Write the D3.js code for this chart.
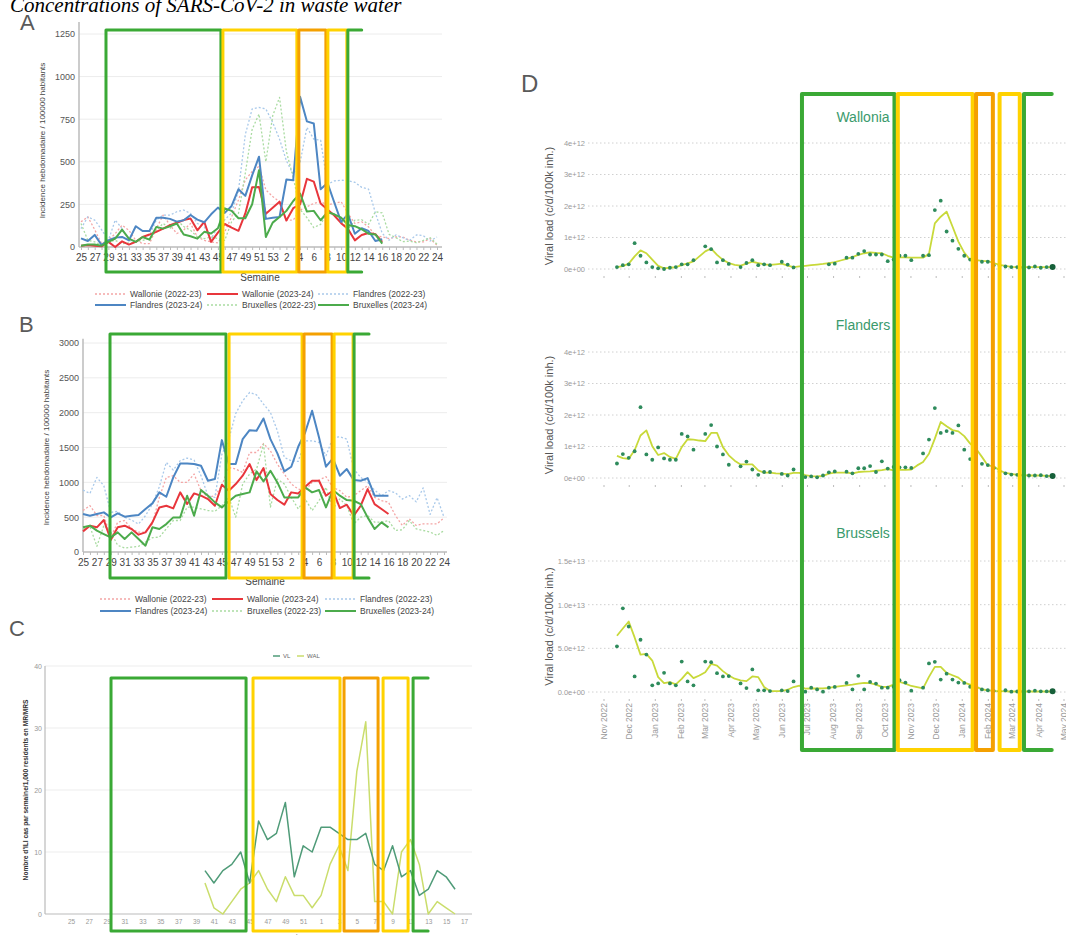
<!DOCTYPE html>
<html>
<head>
<meta charset="utf-8">
<script src="https://cdn.jsdelivr.net/npm/d3@7"></script>
<style>
    body { margin: 0; background: #fff; }
    svg { display: block; font-family: "Liberation Sans", Arial, sans-serif; }
</style>
</head>
<body>
<div id="chart"></div>
<script>
//Semanas (eje x de A y B, y de C)
const semanasAB = [25,26,27,28,29,30,31,32,33,34,35,36,37,38,39,40,41,42,43,44,45,46,47,48,49,50,51,52,53,1,2,3,4,5,6,7,8,9,10,11,12,13,14,15,16,17,18,19,20,21,22,23,24];
const semanasC = [25,26,27,28,29,30,31,32,33,34,35,36,37,38,39,40,41,42,43,44,45,46,47,48,49,50,51,52,1,2,3,4,5,6,7,8,9,10,11,12,13,14,15,16,17];

const nombresSeries = ['Wallonie (2022-23)', 'Wallonie (2023-24)', 'Flandres (2022-23)', 'Flandres (2023-24)', 'Bruxelles (2022-23)', 'Bruxelles (2023-24)'];

//Panel A - incidence hebdomadaire
const aWal22 = [148,177,102,20,39,79,128,98,39,20,20,108,187,128,79,100,138,59,39,30,24,89,177,276,394,443,473,335,296,266,158,158,217,236,256,266,246,256,266,197,138,148,118,69,59,49,59,59,39,30,30,49,10];
const aWal23 = [8,12,8,4,30,0,33,14,30,59,73,89,108,128,142,158,167,98,148,30,84,135,114,95,197,350,352,195,230,266,155,228,250,400,384,255,220,185,140,105,39,70,82,75,30];
const aFla22 = [108,177,158,102,39,158,108,39,30,59,69,158,187,187,207,217,197,138,118,49,118,160,200,330,660,810,819,810,731,633,506,427,496,702,633,627,368,388,392,388,380,350,340,200,80,40,71,55,39,71,67,35,59];
const aFla23 = [51,35,71,12,39,55,59,39,122,94,94,172,172,165,149,157,188,161,145,192,231,200,241,339,300,420,530,165,172,176,396,392,882,737,725,339,376,261,147,192,78,110,94,35,45];
const aBru22 = [138,39,30,10,30,39,20,24,30,39,49,98,138,108,158,120,98,59,49,59,49,39,148,197,433,690,780,500,770,878,560,408,221,172,114,133,202,192,153,104,157,160,133,207,200,74,55,31,35,25,39,55,16];
const aBru23 = [8,14,14,8,30,49,102,49,30,59,43,118,108,122,138,73,63,49,89,79,110,227,212,169,169,251,451,59,143,176,212,270,314,208,212,157,204,192,172,129,122,104,78,74,20];
const ticksA = [0,250,500,750,1000,1250];

//Panel B
const bWal22 = [595,666,524,524,214,428,452,333,286,286,404,785,1071,1095,1000,1000,1119,880,785,809,952,1214,1190,1142,1428,1428,1557,1452,1261,1119,976,904,880,1000,1033,1081,928,880,785,809,880,952,785,738,714,524,381,476,381,404,404,404,490];
const bWal23 = [296,378,354,459,172,354,378,330,249,282,425,640,664,626,856,688,841,808,760,664,966,880,975,1095,1262,1032,1205,832,746,679,856,841,937,1023,1023,808,880,631,679,521,664,903,688,617,545];
const bFla22 = [889,841,1071,951,569,583,497,459,401,521,688,937,1286,1176,1310,1348,1319,1095,808,784,1400,1620,1988,2170,2290,2256,2122,2003,1740,1358,1310,1300,1596,1596,1573,1381,1644,1653,1620,1190,1071,999,889,808,880,850,760,810,720,920,540,780,500];
const bFla23 = [545,521,545,569,497,555,507,521,531,617,698,856,793,1071,1271,1271,1262,1238,1023,1047,1606,1262,1262,1620,1749,1740,1917,1620,1415,1157,1224,1510,1716,2027,1644,1224,1343,1095,1190,1032,1023,1061,808,808,808];
const bBru22 = [333,366,81,381,286,95,57,71,81,143,205,214,333,452,452,643,643,619,595,585,666,785,500,976,1119,1190,1547,643,1047,976,785,619,762,595,738,928,619,762,666,404,500,524,428,428,452,309,319,452,333,309,286,238,309];
const bBru23 = [354,378,306,258,210,282,186,282,186,91,354,330,401,497,497,808,521,889,808,712,640,727,808,832,856,1157,1013,1166,999,784,784,784,927,856,889,640,889,808,746,736,688,497,330,425,354];
const ticksB = [0,500,1000,1500,2000,2500,3000];

//Panel C - ILI en MR/MRS (semaine 40 -> 16)
const cVL = [null,null,null,null,null,null,null,null,null,null,null,null,null,null,null,7,5,7,8,10,5,15,12,13,18,6,11,10,14,14,13,12,12,13,8,7,11,6,7,3,4,7,6,4,null];
const cWAL = [null,null,null,null,null,null,null,null,null,null,null,null,null,null,null,5,1,0,2,4,5,7,4,2,6,3,3,1,3,8,11,7,23,31,2,2,0,10,12,8,0,2,1,0,null];
const ticksC = [0,10,20,30,40];

//Panel D - charge virale hebdomadaire (unités de 1e12)
const inicioD = '2022-11-17';
const dWalPuntos = [0.06,0.12,0.15,0.82,0.42,0.21,0.06,0.02,0.00,0.04, 0.06,0.15,0.15,0.28,null,0.72,0.63,0.21,0.28,0.16, null,0.06,0.19,0.28,0.12,0.15,0.12,null,0.23,0.14, 0.05,null,null,null,null,null,0.15,0.17,null,0.36, 0.36,0.48,0.57,0.46,0.46,0.46,0.25,0.30,0.42,0.42, 0.28,null,0.42,0.44,1.87,2.17,1.19,0.90,0.64,0.42, 0.30,0.23,0.23,0.23,0.12,0.10,0.08,0.06,0.06,0.05, 0.05,0.08,0.04,0.06,0.06];
const dWalLinea = [0.06,0.09,0.17,0.40,0.59,0.50,0.30,0.10,0.02,0.04, 0.06,0.12,0.18,0.24,0.40,0.56,0.65,0.45,0.29,0.19, 0.13,0.11,0.17,0.23,0.19,0.15,0.13,0.15,0.17,0.11, 0.06,0.08,0.10,0.12,0.14,0.16,0.19,0.22,0.27,0.32, 0.38,0.45,0.50,0.53,0.51,0.50,0.42,0.36,0.37,0.37, 0.36,0.36,0.36,0.48,1.45,1.66,1.82,1.35,0.87,0.52, 0.29,0.28,0.26,0.25,0.19,0.13,0.10,0.07,0.06,0.06, 0.06,0.06,0.06,0.06,0.06];
const dFlaPuntos = [0.46,0.76,0.64,0.85,2.25,0.75,0.58,0.97,0.62,0.58, 0.58,1.40,1.32,0.90,null,1.40,1.68,1.00,0.75,0.42, null,0.37,0.52,0.27,0.10,0.19,0.19,null,0.13,0.08, 0.27,null,0.03,0.05,0.02,0.08,0.18,0.21,null,0.20, 0.15,0.31,0.31,0.38,0.19,0.53,0.30,0.35,0.34,0.34, 0.32,null,0.78,1.22,2.22,1.43,1.49,1.43,1.67,0.90, 0.60,0.50,0.45,0.41,0.31,0.20,0.15,0.11,0.10,0.09, 0.08,0.08,0.09,0.06,0.06];
const dFlaLinea = [0.70,0.63,0.61,0.88,1.35,1.51,1.01,0.73,0.79,0.67, 0.61,0.98,1.23,1.22,1.19,1.17,1.43,1.43,0.98,0.72, 0.55,0.43,0.43,0.43,0.24,0.17,0.17,0.15,0.14,0.12, 0.16,0.16,0.09,0.06,0.05,0.07,0.14,0.17,0.17,0.17, 0.15,0.19,0.20,0.21,0.23,0.25,0.28,0.24,0.26,0.26, 0.27,0.40,0.51,0.77,1.25,1.78,1.64,1.52,1.48,1.33, 1.09,0.93,0.67,0.40,0.37,0.24,0.16,0.13,0.10,0.09, 0.08,0.08,0.08,0.07,0.06];
const dBruPuntos = [5.23,9.58,7.50,1.78,5.98,4.28,0.76,0.98,2.20,0.98, 0.76,3.48,1.21,0.76,null,3.48,3.41,2.16,1.78,1.82, null,0.98,0.45,2.58,0.19,0.19,0.11,null,0.19,0.11, 1.21,null,0.04,0.50,0.30,0.04,0.50,0.58,null,1.04, 0.30,1.85,0.30,1.15,0.96,0.50,0.50,0.60,1.35,1.08, 0.15,null,0.50,3.27,3.46,1.42,2.10,1.42,1.08,1.04, 0.60,0.40,0.30,0.20,0.12,0.10,0.20,0.04,0.06,0.06, 0.08,0.15,0.08,0.08,0.08];
const dBruLinea = [6.44,7.27,8.07,6.25,4.28,4.36,3.60,1.70,1.02,1.14, 0.87,1.50,2.27,1.59,1.89,2.27,3.22,3.03,2.39,1.89, 1.52,1.33,1.25,1.78,1.70,0.57,0.11,0.11,0.11,0.26, 0.57,0.72,0.38,0.42,0.40,0.42,0.46,0.58,0.68,0.77, 0.85,0.96,1.05,1.02,0.85,0.58,0.58,0.85,1.15,0.96, 0.69,0.55,0.42,1.73,2.88,2.88,2.19,1.92,1.65,1.08, 0.85,0.62,0.30,0.20,0.12,0.10,0.08,0.06,0.06,0.06, 0.06,0.06,0.06,0.06,0.06];
const ticksD12 = [0,1,2,3,4];
const ticksD3 = [0,5,10,15];

//Periodos marcados (verde, amarillo, naranja, amarillo, verde abierto)
const periodosA = [[3.65,20.44],[20.73,31.53],[31.82,35.77],[36.06,38.83],[38.98,41.0]];
const periodosB = [[3.89,20.6],[21.04,31.56],[31.84,35.88],[36.17,38.9],[39.05,41.2]];
const periodosC = [[4.48,19.6],[20.38,30.12],[30.57,34.38],[34.94,37.74],[38.3,39.98]];
const periodosD = [['2023-06-25','2023-10-13'],['2023-10-17','2024-01-14'],['2024-01-18','2024-02-07'],['2024-02-15','2024-03-10'],['2024-03-15','2024-04-17']];

//Colores fijos
const COLORES_SERIES = ['#f4a5a5', '#e8363c', '#a9c9ea', '#4d86c3', '#a9dba1', '#4cab4c'];
const DISCONTINUA = [true, false, true, false, true, false];
const COLORES_PERIODO = ['#3aa935', '#ffd200', '#f4a000', '#ffd200', '#3aa935'];
const COLOR_VL = '#4f9b78', COLOR_WAL = '#cadd6c';
const COLOR_PUNTO = '#2e8b5c', COLOR_LINEA_D = '#c8d93a', COLOR_FACETA = '#3a9a6c';

let svg = d3.select('#chart')
    .append('svg')
        .attr('width', 1066)
        .attr('height', 935);

//Título (cortado arriba)
svg.append('text')
    .attr('x', 10)
    .attr('y', 12)
    .attr('font-family', '"Liberation Serif", "Times New Roman", serif')
    .attr('font-style', 'italic')
    .attr('font-size', 21)
    .text('Concentrations of SARS-CoV-2 in waste water');

//Letras de los paneles
[['A', 20, 30], ['B', 19, 332], ['C', 9, 636], ['D', 521, 92]].forEach(function(l) {
    svg.append('text')
        .attr('x', l[1]).attr('y', l[2])
        .attr('font-size', l[0] == 'D' ? 24 : 22)
        .attr('fill', '#5a5a5a')
        .text(l[0]);
});

function drawPeriodos(g, x, periodos, top, bottom, grosor) {
    periodos.forEach(function(p, i) {
        let x0 = x(p[0]), x1 = x(p[1]);
        let d;
        if (i == periodos.length - 1) {
            d = 'M' + x1 + ',' + top + 'H' + x0 + 'V' + bottom + 'H' + x1;
        } else {
            d = 'M' + x0 + ',' + top + 'H' + x1 + 'V' + bottom + 'H' + x0 + 'Z';
        }
        g.append('path')
            .attr('d', d)
            .attr('fill', 'none')
            .attr('stroke', COLORES_PERIODO[i])
            .attr('stroke-width', grosor)
            .attr('stroke-linejoin', 'round')
            .attr('stroke-linecap', 'round');
    });
}

function estiloEje(sel, size, color) {
    sel.attr('font-family', '"Liberation Sans", Arial, sans-serif');
    sel.selectAll('text').attr('font-size', size).attr('fill', color);
    sel.selectAll('.tick line').attr('stroke', '#bbb');
}

/////
// Paneles A y B
/////
function panelSemanas(c) {
    let g = svg.append('g');

    let x = d3.scaleLinear()
        .domain([0, semanasAB.length - 1])
        .range([c.x0, c.x1]);

    let y = d3.scaleLinear()
        .domain([0, c.max])
        .range([c.yBase, c.yTop]);

    //Rejilla
    g.append('g')
        .selectAll('line')
        .data(c.ticks.filter(function(t) { return t > 0; }))
        .enter()
        .append('line')
        .attr('x1', c.ejeX).attr('x2', c.finX)
        .attr('y1', function(d) { return y(d); })
        .attr('y2', function(d) { return y(d); })
        .attr('stroke', '#ececec');

    //Eje Y
    g.append('g')
        .attr('transform', 'translate(' + c.ejeX + ',0)')
        .call(d3.axisLeft(y).tickValues(c.ticks).tickSize(0).tickPadding(4).tickFormat(d3.format('d')))
        .call(function(a) { a.select('.domain').remove(); })
        .call(function(a) { estiloEje(a, 9, '#555'); });

    g.append('line')
        .attr('x1', c.ejeX).attr('x2', c.ejeX)
        .attr('y1', y(c.techo)).attr('y2', y(0))
        .attr('stroke', '#bbb').attr('stroke-width', 1.5);

    //Eje X
    g.append('g')
        .attr('transform', 'translate(0,' + c.yBase + ')')
        .call(d3.axisBottom(x)
            .tickValues(d3.range(semanasAB.length))
            .tickSize(3)
            .tickPadding(4)
            .tickFormat(function(i) { return i % 2 == 0 ? semanasAB[i] : ''; }))
        .call(function(a) { a.select('.domain').remove(); })
        .call(function(a) { estiloEje(a, 10, '#444'); });

    g.append('line')
        .attr('x1', c.ejeX).attr('x2', c.finX)
        .attr('y1', y(0)).attr('y2', y(0))
        .attr('stroke', '#bbb').attr('stroke-width', 1.5);

    //Líneas: primero las punteadas (2022-23)
    let linea = d3.line()
        .defined(function(d) { return d != null; })
        .x(function(d, i) { return x(i); })
        .y(function(d) { return y(d); });

    [0, 2, 4, 1, 3, 5].forEach(function(k) {
        g.append('path')
            .datum(c.series[k])
            .attr('d', linea)
            .attr('fill', 'none')
            .attr('stroke', COLORES_SERIES[k])
            .attr('stroke-width', DISCONTINUA[k] ? 1.3 : 2)
            .attr('stroke-dasharray', DISCONTINUA[k] ? '2,2' : null)
            .attr('stroke-linejoin', 'round');
    });

    //Títulos de ejes
    g.append('text')
        .attr('transform', 'translate(' + c.tituloYX + ',' + ((c.yBase + c.yTop) / 2) + ') rotate(-90)')
        .attr('text-anchor', 'middle')
        .attr('font-size', 8)
        .attr('fill', '#444')
        .text('Incidence hebdomadaire / 100000 habitants');

    g.append('text')
        .attr('x', c.semaineX).attr('y', c.semaineY)
        .attr('text-anchor', 'middle')
        .attr('font-size', 10)
        .attr('fill', '#444')
        .text('Semaine');

    //Leyenda
    nombresSeries.forEach(function(n, k) {
        let col = k % 3, fila = Math.floor(k / 3);
        let lx = c.leyendaX[col], ly = c.leyendaY[fila];
        g.append('line')
            .attr('x1', lx).attr('x2', lx + 31)
            .attr('y1', ly).attr('y2', ly)
            .attr('stroke', COLORES_SERIES[k])
            .attr('stroke-width', DISCONTINUA[k] ? 1.3 : 2)
            .attr('stroke-dasharray', DISCONTINUA[k] ? '2,2' : null);
        g.append('text')
            .attr('x', lx + 35).attr('y', ly)
            .attr('dy', '0.35em')
            .attr('font-size', 8.5)
            .attr('fill', '#444')
            .text(n);
    });

    //Periodos
    drawPeriodos(g, x, c.periodos, c.cajaTop, c.cajaBottom, 3);
}

panelSemanas({
    x0: 81, x1: 437, yBase: 247, yTop: 34, max: 1250, techo: 1320,
    ejeX: 79, finX: 442, ticks: ticksA,
    series: [aWal22, aWal23, aFla22, aFla23, aBru22, aBru23],
    tituloYX: 45, semaineX: 260, semaineY: 281,
    leyendaX: [95, 207, 318], leyendaY: [294, 305],
    periodos: periodosA, cajaTop: 30, cajaBottom: 272
});

panelSemanas({
    x0: 83, x1: 444, yBase: 552, yTop: 343, max: 3000, techo: 3060,
    ejeX: 83, finX: 447, ticks: ticksB,
    series: [bWal22, bWal23, bFla22, bFla23, bBru22, bBru23],
    tituloYX: 49, semaineX: 265, semaineY: 585,
    leyendaX: [100, 212, 325], leyendaY: [599, 611],
    periodos: periodosB, cajaTop: 334, cajaBottom: 578
});

/////
// Panel C
/////
function panelC() {
    let g = svg.append('g');

    let x = d3.scaleLinear()
        .domain([0, semanasC.length - 1])
        .range([71, 464]);

    let y = d3.scaleLinear()
        .domain([0, 40])
        .range([914, 666]);

    g.append('g')
        .selectAll('line')
        .data(ticksC.filter(function(t) { return t > 0; }))
        .enter()
        .append('line')
        .attr('x1', 45).attr('x2', 472)
        .attr('y1', function(d) { return y(d); })
        .attr('y2', function(d) { return y(d); })
        .attr('stroke', '#ededed');

    g.append('g')
        .attr('transform', 'translate(45,0)')
        .call(d3.axisLeft(y).tickValues(ticksC).tickSize(0).tickPadding(3))
        .call(function(a) { a.select('.domain').remove(); })
        .call(function(a) { estiloEje(a, 7, '#999'); });

    g.append('g')
        .attr('transform', 'translate(0,914)')
        .call(d3.axisBottom(x)
            .tickValues(d3.range(0, semanasC.length, 2))
            .tickSize(0)
            .tickPadding(5)
            .tickFormat(function(i) { return semanasC[i]; }))
        .call(function(a) { a.select('.domain').remove(); })
        .call(function(a) { estiloEje(a, 6.5, '#999'); });

    g.append('line')
        .attr('x1', 45).attr('x2', 45)
        .attr('y1', y(40)).attr('y2', y(0))
        .attr('stroke', '#bbb').attr('stroke-width', 1.2);
    g.append('line')
        .attr('x1', 45).attr('x2', 472)
        .attr('y1', y(0)).attr('y2', y(0))
        .attr('stroke', '#bbb').attr('stroke-width', 1.2);

    let linea = d3.line()
        .defined(function(d) { return d != null; })
        .x(function(d, i) { return x(i); })
        .y(function(d) { return y(d); });

    [[cWAL, COLOR_WAL], [cVL, COLOR_VL]].forEach(function(s) {
        g.append('path')
            .datum(s[0])
            .attr('d', linea)
            .attr('fill', 'none')
            .attr('stroke', s[1])
            .attr('stroke-width', 1.5)
            .attr('stroke-linejoin', 'round');
    });

    //Leyenda
    [['VL', COLOR_VL, 273], ['WAL', COLOR_WAL, 297]].forEach(function(l) {
        g.append('line')
            .attr('x1', l[2]).attr('x2', l[2] + 7)
            .attr('y1', 656).attr('y2', 656)
            .attr('stroke', l[1]).attr('stroke-width', 1.5);
        g.append('text')
            .attr('x', l[2] + 10).attr('y', 656)
            .attr('dy', '0.35em')
            .attr('font-size', 6)
            .attr('fill', '#666')
            .text(l[0]);
    });

    g.append('text')
        .attr('transform', 'translate(28,790) rotate(-90)')
        .attr('text-anchor', 'middle')
        .attr('font-size', 6.6)
        .attr('font-weight', 'bold')
        .attr('fill', '#333')
        .text("Nombre d'ILI cas par semaine/1,000 residents en MR/MRS");

    g.append('text')
        .attr('x', 290).attr('y', 941)
        .attr('text-anchor', 'middle')
        .attr('font-size', 9)
        .attr('fill', '#666')
        .text('Semaine');

    drawPeriodos(g, x, periodosC, 678, 931, 3);
}

panelC();

/////
// Panel D
/////
function panelD() {
    let g = svg.append('g');
    let inicio = d3.utcParse('%Y-%m-%d')(inicioD);
    let fechas = dWalLinea.map(function(d, i) { return d3.utcDay.offset(inicio, 7 * i); });

    let x = d3.scaleUtc()
        .domain([new Date(Date.UTC(2022, 10, 1)), new Date(Date.UTC(2024, 4, 1))])
        .range([603.5, 1063.5]);

    let formato = function(dig) {
        return function(v) {
            return (v * 1e12).toExponential(dig).replace(/e\+(\d)$/, 'e+0$1');
        };
    };

    let facetas = [
        {nombre: 'Wallonia', puntos: dWalPuntos, linea: dWalLinea, y0: 269, y1: 143, max: 4, ticks: ticksD12, fmt: formato(0), tituloY: 122, etiquetas: false},
        {nombre: 'Flanders', puntos: dFlaPuntos, linea: dFlaLinea, y0: 478, y1: 352, max: 4, ticks: ticksD12, fmt: formato(0), tituloY: 330, etiquetas: false},
        {nombre: 'Brussels', puntos: dBruPuntos, linea: dBruLinea, y0: 692, y1: 561, max: 15, ticks: ticksD3, fmt: formato(1), tituloY: 538, etiquetas: true}
    ];

    facetas.forEach(function(f) {
        let y = d3.scaleLinear().domain([0, f.max]).range([f.y0, f.y1]);

        //Rejilla punteada
        g.append('g')
            .selectAll('line')
            .data(f.ticks)
            .enter()
            .append('line')
            .attr('x1', 588).attr('x2', 1066)
            .attr('y1', function(d) { return y(d); })
            .attr('y2', function(d) { return y(d); })
            .attr('stroke', '#c4c4c4')
            .attr('stroke-width', 0.8)
            .attr('stroke-dasharray', '1.5,2.5');

        g.append('g')
            .attr('transform', 'translate(588,0)')
            .call(d3.axisLeft(y).tickValues(f.ticks).tickSize(0).tickPadding(3).tickFormat(f.fmt))
            .call(function(a) { a.select('.domain').remove(); })
            .call(function(a) { estiloEje(a, 7.5, '#9a9a9a'); });

        //Eje X (marcas mensuales)
        let ejeX = g.append('g')
            .attr('transform', 'translate(0,' + (f.y0 + 7) + ')')
            .call(d3.axisBottom(x)
                .ticks(d3.utcMonth.every(1))
                .tickSize(2)
                .tickFormat(f.etiquetas ? d3.utcFormat('%b %Y') : function() { return ''; }))
            .call(function(a) { a.select('.domain').remove(); })
            .call(function(a) { estiloEje(a, 8.5, '#9a9a9a'); });

        if (f.etiquetas) {
            ejeX.selectAll('text')
                .attr('transform', 'rotate(-90)')
                .attr('text-anchor', 'end')
                .attr('x', -4)
                .attr('y', 0)
                .attr('dy', '0.32em');
        }

        //Título de eje Y
        g.append('text')
            .attr('transform', 'translate(553,' + ((f.y0 + f.y1) / 2) + ') rotate(-90)')
            .attr('text-anchor', 'middle')
            .attr('font-size', 11)
            .attr('fill', '#555')
            .text('Viral load (c/d/100k inh.)');

        //Línea suavizada
        g.append('path')
            .datum(f.linea)
            .attr('d', d3.line()
                .x(function(d, i) { return x(fechas[i]); })
                .y(function(d) { return y(d); }))
            .attr('fill', 'none')
            .attr('stroke', COLOR_LINEA_D)
            .attr('stroke-width', 1.8)
            .attr('stroke-linejoin', 'round');

        //Puntos
        g.append('g')
            .selectAll('circle')
            .data(f.puntos.map(function(v, i) { return {fecha: fechas[i], valor: v, ultimo: i == f.puntos.length - 1}; })
                .filter(function(d) { return d.valor != null; }))
            .enter()
            .append('circle')
            .attr('cx', function(d) { return x(d.fecha); })
            .attr('cy', function(d) { return y(d.valor); })
            .attr('r', function(d) { return d.ultimo ? 3 : 1.9; })
            .attr('fill', function(d) { return d.ultimo ? '#17603a' : COLOR_PUNTO; });

        //Nombre de la faceta
        g.append('text')
            .attr('x', 863).attr('y', f.tituloY)
            .attr('text-anchor', 'middle')
            .attr('font-size', 14)
            .attr('fill', COLOR_FACETA)
            .text(f.nombre);
    });

    let parse = d3.utcParse('%Y-%m-%d');
    let xPeriodo = function(s) { return x(parse(s)); };
    drawPeriodos(g, xPeriodo, periodosD, 94, 750, 4);
}

panelD();
</script>
</body>
</html>
